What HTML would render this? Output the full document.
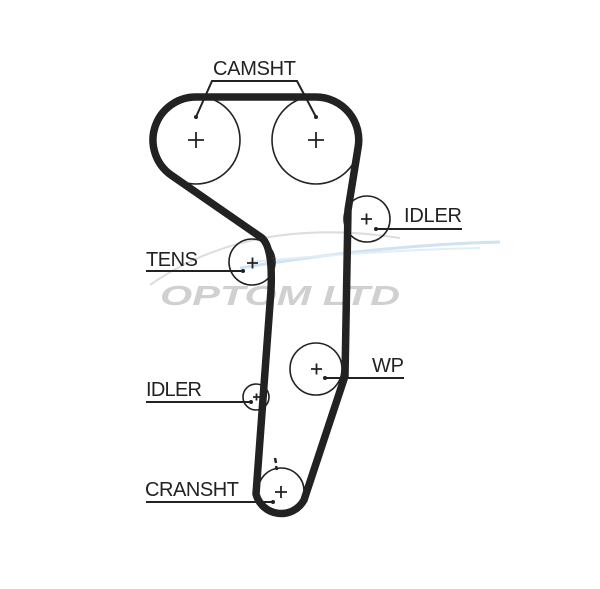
<!DOCTYPE html>
<html><head><style>html,body{margin:0;padding:0;background:#fff}svg{display:block}</style></head>
<body>
<svg width="600" height="589" viewBox="0 0 600 589" xmlns="http://www.w3.org/2000/svg" font-family="Liberation Sans, sans-serif">
<rect width="600" height="589" fill="#fff"/>
<!-- watermark -->
<path d="M150,285 Q250,215 400,238" stroke="#ddd" stroke-width="2" fill="none"/>
<path d="M240,268 Q380,245 500,242" stroke="#cfe3f3" stroke-width="3" fill="none"/>
<path d="M250,262 Q380,250 480,248" stroke="#e0eef8" stroke-width="2" fill="none"/>
<text x="160" y="305" font-size="28" font-weight="bold" font-style="italic" fill="#d0d0d0" textLength="240" lengthAdjust="spacingAndGlyphs">OPTOM LTD</text>
<!-- pulleys -->
<g fill="none" stroke="#222" stroke-width="1.6">
<circle cx="196" cy="140" r="44"/>
<circle cx="316" cy="140" r="44"/>
<circle cx="367" cy="219" r="23"/>
<circle cx="252" cy="262" r="23"/>
<circle cx="316" cy="369" r="26"/>
<circle cx="256" cy="397" r="13"/>
<circle cx="281" cy="491" r="23"/>
</g>
<!-- belt -->
<path d="M196,97 L316,97 A43,43 0 0 1 358,148 L348,210 L345,376 L304,500 A26,26 0 0 1 256,494 L271,290 Q273,248 262,238 L171,175 A43,43 0 0 1 196,97 Z" fill="none" stroke="#222" stroke-width="7.5" stroke-linejoin="round"/>
<!-- plus marks -->
<g stroke="#222" stroke-width="1.8">
<path d="M188,140h16M196,132v16"/>
<path d="M308,140h16M316,132v16"/>
<path d="M361,219h11M366.5,213.5v11"/>
<path d="M247,263h11M252.5,257.5v11"/>
<path d="M311,369h11M316.5,363.5v11"/>
<path d="M253,397h7M256.5,393.5v7"/>
<path d="M275,492h12M281,486v12"/>
<path d="M275,458l1,5M276,466l1,4" stroke-width="2.5"/>
</g>
<!-- leaders -->
<g stroke="#222" stroke-width="2" fill="none">
<path d="M196,117 L212,81 L297,81 L316,117"/>
<path d="M376,229 H462"/>
<path d="M146,271 H243"/>
<path d="M325,378 H404"/>
<path d="M146,402 H251"/>
<path d="M146,502 H273"/>
</g>
<g fill="#222">
<circle cx="196" cy="117" r="2"/><circle cx="316" cy="117" r="2"/>
<circle cx="376" cy="229" r="2"/><circle cx="243" cy="271" r="2"/>
<circle cx="325" cy="378" r="2"/><circle cx="251" cy="402" r="2"/>
<circle cx="273" cy="502" r="2"/>
</g>
<g font-size="20" fill="#222">
<text x="213" y="75" textLength="83">CAMSHT</text>
<text x="404" y="222" textLength="58">IDLER</text>
<text x="146" y="266" textLength="52">TENS</text>
<text x="372" y="372" textLength="32">WP</text>
<text x="146" y="396" textLength="56">IDLER</text>
<text x="145" y="496" textLength="94">CRANSHT</text>
</g>
</svg>
</body></html>
